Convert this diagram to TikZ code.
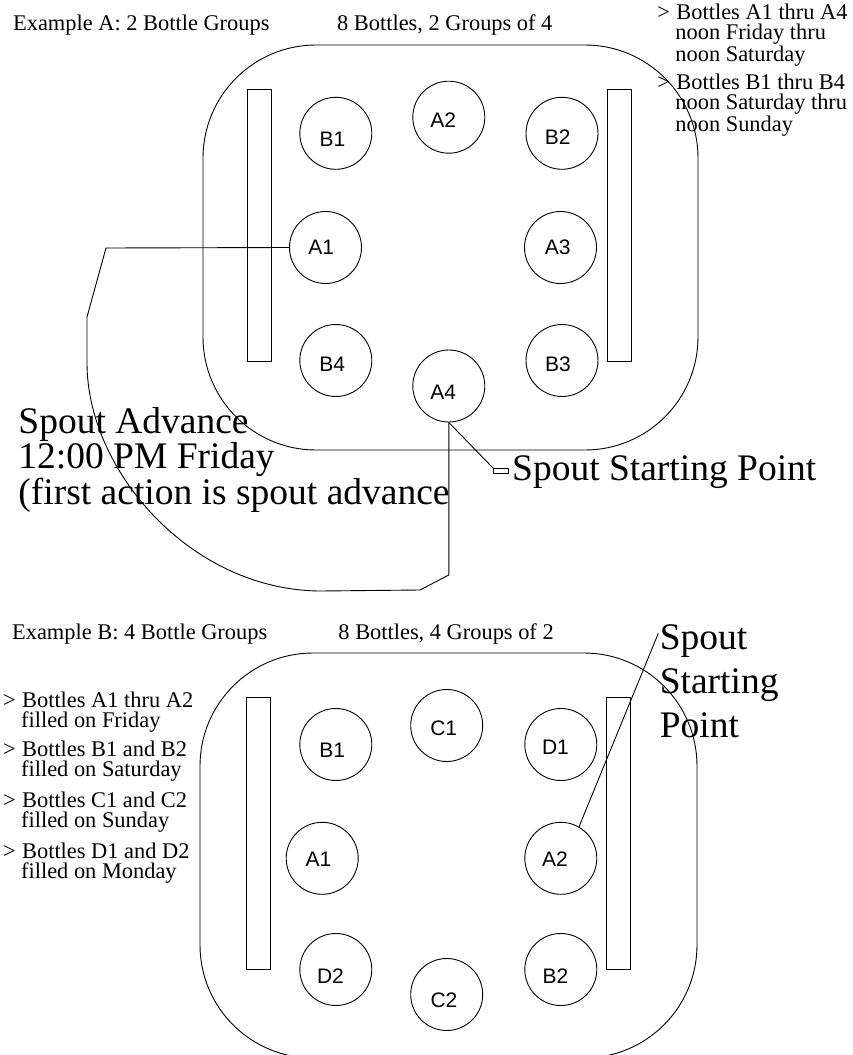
\documentclass[tikz,border=0pt]{standalone}
\usepackage{fontspec}
\setmainfont{Liberation Serif}
\newfontfamily\labelfont{Liberation Sans}
\newcommand{\gtitem}{\makebox[19pt][l]{>}}
\newcommand{\gtindent}{\hspace*{18pt}}

\begin{document}
\begin{tikzpicture}[x=1pt, y=-1pt, line width=0.9pt,
  bottle/.style={circle, draw, minimum size=72, inner sep=0},
  bottlelabel/.style={inner sep=0, font=\labelfont\fontsize{21}{21}\selectfont},
  rail/.style={rectangle, draw, minimum width=24, minimum height=272.4, inner sep=0},
  smalltext/.style={anchor=base west, inner sep=0, align=left, font=\fontsize{22.4}{20}\selectfont},
  bigtext/.style={anchor=base west, inner sep=0, align=left, font=\fontsize{37.5}{33}\selectfont}]

\useasboundingbox (0,0) rectangle (852,1055);

\draw (12.7,30.7) node (titleA) [smalltext] {Example A: 2 Bottle Groups};
\draw (336.7,30.7) node (countA) [smalltext] {8 Bottles, 2 Groups of 4};
\draw (657,61) node (noteA1) [smalltext] {\gtitem Bottles A1 thru A4\\\gtindent noon Friday thru\\\gtindent noon Saturday};
\draw (657,131) node (noteA2) [smalltext] {\gtitem Bottles B1 thru B4\\\gtindent noon Saturday thru\\\gtindent noon Sunday};

\draw [rounded corners=113] (203,45) rectangle (698,450);
\draw (259.8,225.5) node (railA1) [rail] {};
\draw (619.2,225.5) node (railA2) [rail] {};

\draw (335.8,133.3) node (aB1) [bottle] {};
\draw (332.5,139.2) node (aB1label) [bottlelabel] {B1};
\draw (448.8,117.2) node (aA2) [bottle] {};
\draw (443.3,120) node (aA2label) [bottlelabel] {A2};
\draw (562,133.3) node (aB2) [bottle] {};
\draw (557.8,136.7) node (aB2label) [bottlelabel] {B2};
\draw (325.5,247.5) node (aA1) [bottle] {};
\draw (321.2,247.5) node (aA1label) [bottlelabel] {A1};
\draw (560.5,247.5) node (aA3) [bottle] {};
\draw (557.7,247.5) node (aA3label) [bottlelabel] {A3};
\draw (335.8,360.5) node (aB4) [bottle] {};
\draw (332.2,364.2) node (aB4label) [bottlelabel] {B4};
\draw (562,360.5) node (aB3) [bottle] {};
\draw (558,364.2) node (aB3label) [bottlelabel] {B3};
\draw (448.8,386) node (aA4) [bottle] {};
\draw (443.3,392.5) node (aA4label) [bottlelabel] {A4};

\draw (18,504) node (advance) [bigtext] {Spout Advance\\12:00 PM Friday\\(first action is spout advance};
\draw (aA1.west) -- (106,248) -- (87,317) -- (87,363) .. controls (87,470) and (190,590) .. (320,591) -- (420,590) -- (aA4.south |- 0,575) -- (aA4.south);

\draw (493,468) node (startA) [rectangle, draw, line width=0.6pt, minimum width=15, minimum height=4.5, inner sep=0, anchor=north west] {};
\draw (511.7,480) node (startAtext) [bigtext] {Spout Starting Point};
\draw (aA4.south) -- (startA.north west);

\draw (11.7,639.3) node (titleB) [smalltext] {Example B: 4 Bottle Groups};
\draw (338,639.3) node (countB) [smalltext] {8 Bottles, 4 Groups of 2};
\draw (2.7,727.3) node (noteB1) [smalltext] {\gtitem Bottles A1 thru A2\\\gtindent filled on Friday};
\draw (2.7,776) node (noteB2) [smalltext] {\gtitem Bottles B1 and B2\\\gtindent filled on Saturday};
\draw (2.7,827.7) node (noteB3) [smalltext] {\gtitem Bottles C1 and C2\\\gtindent filled on Sunday};
\draw (2.7,878) node (noteB4) [smalltext] {\gtitem Bottles D1 and D2\\\gtindent filled on Monday};

\draw [rounded corners=113] (200,653) rectangle (697,1058);
\draw (258,833.7) node (railB1) [rail] {};
\draw (618.2,833.7) node (railB2) [rail] {};

\draw (335.8,744.5) node (bB1) [bottle] {};
\draw (332.2,750) node (bB1label) [bottlelabel] {B1};
\draw (446.7,725.5) node (bC1) [bottle] {};
\draw (443.7,728.3) node (bC1label) [bottlelabel] {C1};
\draw (560.8,744.5) node (bD1) [bottle] {};
\draw (555.5,747.5) node (bD1label) [bottlelabel] {D1};
\draw (322.2,858.3) node (bA1) [bottle] {};
\draw (318.5,859.2) node (bA1label) [bottlelabel] {A1};
\draw (560.8,858.3) node (bA2) [bottle] {};
\draw (555,859.2) node (bA2label) [bottlelabel] {A2};
\draw (335.8,969.5) node (bD2) [bottle] {};
\draw (330.5,975.8) node (bD2label) [bottlelabel] {D2};
\draw (446.7,994.5) node (bC2) [bottle] {};
\draw (444,1000) node (bC2label) [bottlelabel] {C2};
\draw (560.8,969.5) node (bB2) [bottle] {};
\draw (555.5,975.8) node (bB2label) [bottlelabel] {B2};

\draw (659.3,737.3) node (startB) [bigtext, font=\fontsize{37.5}{44}\selectfont] {Spout\\Starting\\Point};
\path (startB.base west) ++(-1,-104) coordinate (startBend);
\draw (bA2.60) -- (startBend);

\end{tikzpicture}
\end{document}
